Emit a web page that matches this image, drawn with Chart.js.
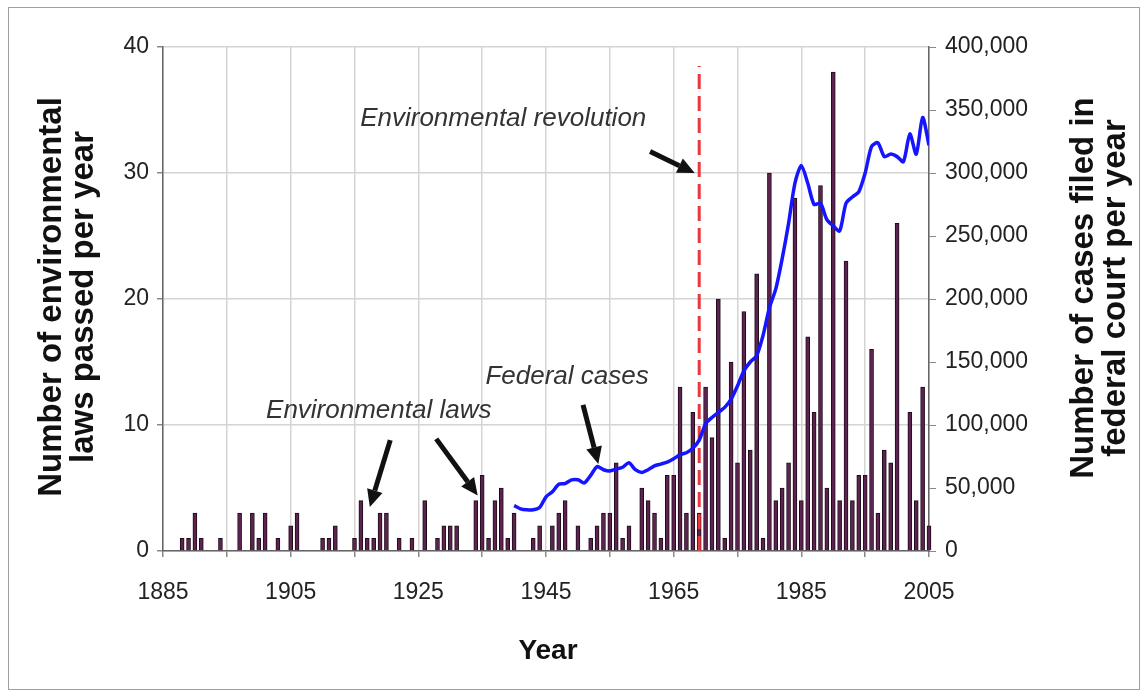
<!DOCTYPE html>
<html>
<head>
<meta charset="utf-8">
<script src="https://cdn.jsdelivr.net/npm/chart.js@4.4.0/dist/chart.umd.min.js"></script>
<style>
  html, body { margin: 0; padding: 0; background: #fff; }
  #wrap { width: 1146px; height: 694px; }
</style>
</head>
<body>
<div id="wrap"><canvas id="lawChart" width="1146" height="694"></canvas></div>
<script>
// Environmental laws passed per year (years with no law are left out)
const lawYears = [1888, 1889, 1890, 1891, 1894, 1897, 1899, 1900, 1901, 1903,
  1905, 1906, 1910, 1911, 1912, 1915, 1916, 1917, 1918, 1919, 1920, 1922, 1924,
  1926, 1928, 1929, 1930, 1931, 1934, 1935, 1936, 1937, 1938, 1939, 1940, 1943,
  1944, 1946, 1947, 1948, 1950, 1952, 1953, 1954, 1955, 1956, 1957, 1958, 1960,
  1961, 1962, 1963, 1964, 1965, 1966, 1967, 1968, 1969, 1970, 1971, 1972, 1973,
  1974, 1975, 1976, 1977, 1978, 1979, 1980, 1981, 1982, 1983, 1984, 1985, 1986,
  1987, 1988, 1989, 1990, 1991, 1992, 1993, 1994, 1995, 1996, 1997, 1998, 1999,
  2000, 2002, 2003, 2004, 2005];
const lawCounts = [1, 1, 3, 1, 1, 3, 3, 1, 3, 1,
  2, 3, 1, 1, 2, 1, 4, 1, 1, 3, 3, 1, 1,
  4, 1, 2, 2, 2, 4, 6, 1, 4, 5, 1, 3, 1,
  2, 2, 3, 4, 2, 1, 2, 3, 3, 7, 1, 2, 5,
  4, 3, 1, 6, 6, 13, 3, 11, 3, 13, 9, 20, 1,
  15, 7, 19, 8, 22, 1, 30, 4, 5, 7, 28, 4, 17,
  11, 29, 5, 38, 4, 23, 4, 6, 6, 16, 3, 8, 7,
  26, 11, 4, 13, 2];

// Cases filed in federal court per year
const caseYears = [1940, 1941, 1942, 1943, 1944, 1945, 1946, 1947, 1948, 1949,
  1950, 1951, 1952, 1953, 1954, 1955, 1956, 1957, 1958, 1959,
  1960, 1961, 1962, 1963, 1964, 1965, 1966, 1967, 1968, 1969,
  1970, 1971, 1972, 1973, 1974, 1975, 1976, 1977, 1978, 1979,
  1980, 1981, 1982, 1983, 1984, 1985, 1986, 1987, 1988, 1989,
  1990, 1991, 1992, 1993, 1994, 1995, 1996, 1997, 1998, 1999,
  2000, 2001, 2002, 2003, 2004, 2005];
const caseCounts = [36000, 33500, 32700, 32700, 34500, 43000, 47000, 53000, 53500, 56500,
  56500, 54000, 60000, 67000, 64500, 63500, 65000, 66500, 70000, 64500,
  62300, 64500, 67500, 69000, 70500, 73200, 76500, 78000, 81500, 88000,
  101000, 106000, 110000, 114000, 120500, 131000, 143000, 150000, 155000, 171000,
  193000, 208000, 232000, 260000, 292000, 306000, 292000, 275000, 276000, 263000,
  258000, 254000, 276000, 281000, 285000, 300000, 321000, 324000, 313000, 315000,
  313000, 309000, 331000, 315000, 344000, 322000];

const yearTicks = [1885, 1905, 1925, 1945, 1965, 1985, 2005];
const lawTicks = [0, 10, 20, 30, 40];
const revolutionYear = 1969;
const revolutionTop = 38.5;

// annotation texts and arrows, placed in data units (year, laws)
const notes = [
  { text: "Environmental revolution", year: 1938.3, laws: 34.3 },
  { text: "Federal cases", year: 1948.3, laws: 13.8 },
  { text: "Environmental laws", year: 1918.8, laws: 11.1 }
];
const arrows = [
  { from: [1961.3, 31.7], to: [1968.3, 30.0] },
  { from: [1950.8, 11.6], to: [1953.2, 6.9] },
  { from: [1920.6, 8.8], to: [1917.4, 3.5] },
  { from: [1927.8, 8.9], to: [1934.3, 4.4] }
];

const FONT = "'Liberation Sans', Arial, sans-serif";

function drawArrow(ctx, x1, y1, x2, y2) {
  const ang = Math.atan2(y2 - y1, x2 - x1);
  const head = 17, half = 8;
  const bx = x2 - head * Math.cos(ang), by = y2 - head * Math.sin(ang);
  ctx.beginPath();
  ctx.moveTo(x1, y1);
  ctx.lineTo(bx, by);
  ctx.lineWidth = 5;
  ctx.strokeStyle = "#111";
  ctx.stroke();
  ctx.beginPath();
  ctx.moveTo(x2, y2);
  ctx.lineTo(bx + half * Math.sin(ang), by - half * Math.cos(ang));
  ctx.lineTo(bx - half * Math.sin(ang), by + half * Math.cos(ang));
  ctx.closePath();
  ctx.fillStyle = "#111";
  ctx.fill();
}

const decorations = {
  id: "decorations",
  afterDraw(chart) {
    const { ctx, chartArea, scales } = chart;
    const x = scales.x, y = scales.y;
    ctx.save();

    // notes
    ctx.font = "italic 26px " + FONT;
    ctx.fillStyle = "#333";
    ctx.textAlign = "center";
    ctx.textBaseline = "middle";
    notes.forEach(n => ctx.fillText(n.text, x.getPixelForValue(n.year), y.getPixelForValue(n.laws)));

    arrows.forEach(a => drawArrow(ctx,
      x.getPixelForValue(a.from[0]), y.getPixelForValue(a.from[1]),
      x.getPixelForValue(a.to[0]), y.getPixelForValue(a.to[1])));

    // axis titles, both read bottom to top
    ctx.fillStyle = "#111";
    ctx.font = "bold 33px " + FONT;
    const mid = (chartArea.top + chartArea.bottom) / 2;
    ctx.save();
    ctx.translate(chartArea.left - 111, mid - 2);
    ctx.rotate(-Math.PI / 2);
    ctx.fillText("Number of environmental", 0, 0);
    ctx.fillText("laws passed per year", 0, 32);
    ctx.restore();

    ctx.save();
    ctx.translate(chartArea.right + 155, mid - 11);
    ctx.rotate(-Math.PI / 2);
    ctx.fillText("Number of cases filed in", 0, 0);
    ctx.fillText("federal court per year", 0, 32);
    ctx.restore();

    ctx.font = "bold 28px " + FONT;
    ctx.fillText("Year", (chartArea.left + chartArea.right) / 2 + 2, chartArea.bottom + 100);

    // picture frame
    ctx.strokeStyle = "#a0a0a0";
    ctx.lineWidth = 1;
    ctx.strokeRect(8.5, 7.5, 1131, 682);
    ctx.restore();
  }
};

const tickFont = { family: FONT, size: 23 };

new Chart(document.getElementById("lawChart").getContext("2d"), {
  type: "line",
  data: {
    datasets: [
      {
        type: "line",
        label: "Federal cases",
        data: caseYears.map((yr, i) => ({ x: yr, y: caseCounts[i] })),
        yAxisID: "y1",
        borderColor: "#1515ff",
        borderWidth: 3.5,
        pointRadius: 0,
        tension: 0.25,
        order: 0
      },
      {
        type: "line",
        label: "Environmental revolution",
        data: [{ x: revolutionYear, y: 0 }, { x: revolutionYear, y: revolutionTop }],
        yAxisID: "y",
        borderColor: "#e8383d",
        borderWidth: 3,
        borderDash: [15, 7],
        pointRadius: 0,
        order: 1
      },
      {
        type: "bar",
        label: "Environmental laws",
        data: lawYears.map((yr, i) => ({ x: yr, y: lawCounts[i] })),
        yAxisID: "y",
        backgroundColor: "#5c2350",
        borderColor: "#1e0b18",
        borderWidth: 1,
        barThickness: 4,
        clip: false,
        order: 2
      }
    ]
  },
  options: {
    responsive: false,
    animation: false,
    layout: { padding: { top: 47, left: 0, right: 0, bottom: 0 } },
    plugins: { legend: { display: false }, tooltip: { enabled: false } },
    scales: {
      x: {
        type: "linear",
        min: 1885,
        max: 2005,
        offset: false,
        grid: { offset: false, color: "#d4d4d4", lineWidth: 1.5, tickLength: 6, tickColor: "#888" },
        border: { color: "#666", width: 1.5 },
        ticks: {
          stepSize: 10,
          autoSkip: false,
          maxRotation: 0,
          padding: 22,
          font: tickFont,
          color: "#222",
          callback: v => yearTicks.includes(v) ? String(v) : ""
        },
        afterFit: s => { s.height = 143; }
      },
      y: {
        position: "left",
        min: 0,
        max: 40,
        grid: { color: "#d4d4d4", lineWidth: 1.5, tickLength: 6, tickColor: "#888" },
        border: { color: "#666", width: 1.5 },
        ticks: {
          stepSize: 10,
          padding: 8,
          font: tickFont,
          color: "#222",
          callback: v => lawTicks.includes(v) ? String(v) : ""
        },
        afterFit: s => { s.width = 163; }
      },
      y1: {
        position: "right",
        min: 0,
        max: 400000,
        grid: { drawOnChartArea: false, tickLength: 7, tickColor: "#888" },
        border: { color: "#666", width: 1.5 },
        ticks: {
          stepSize: 50000,
          padding: 9,
          font: tickFont,
          color: "#222",
          callback: v => v.toLocaleString("en-US")
        },
        afterFit: s => { s.width = 217; }
      }
    }
  },
  plugins: [decorations]
});
</script>
</body>
</html>
